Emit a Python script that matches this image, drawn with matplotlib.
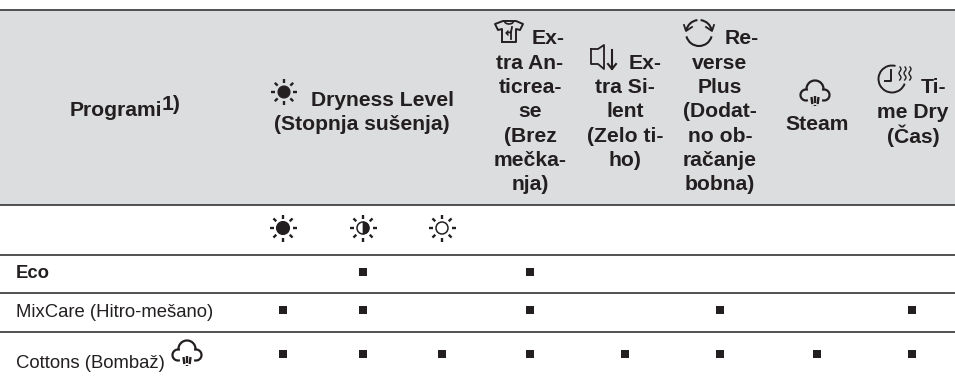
import numpy as np
import matplotlib
matplotlib.use('Agg')
import matplotlib.pyplot as plt
from matplotlib.patches import Circle, Rectangle, Wedge, Arc

plt.rcParams['font.family'] = ['Liberation Sans', 'DejaVu Sans']

# Table content
programs = ['Eco', 'MixCare (Hitro-mešano)', 'Cottons (Bombaž)']
program_bold = [True, False, False]
# columns: dry high, dry mid, dry low, anticrease, silent, reverse, steam, time dry
marks = [
    [0, 1, 0, 1, 0, 0, 0, 0],
    [1, 1, 0, 1, 0, 1, 0, 1],
    [1, 1, 1, 1, 1, 1, 1, 1],
]

col_x = [283, 363, 442, 530, 625, 720, 817, 912]
row_y = [272, 310, 354]
text_y = [278, 317, 368]
rule_y = [10, 204.5, 255, 293, 332]

text_color = '#231f20'
head_size = 15.2
body_size = 13.3

# (x, baseline y, text) of the header lines
head_lines = [
    (382, 105.5, 'Dryness Level'), (362, 130, '(Stopnja sušenja)'),
    (548, 44.5, 'Ex-'), (530, 69, 'tra An-'), (530, 93, 'ticrea-'), (530, 117, 'se'),
    (530, 142, '(Brez'), (530, 166, 'mečka-'), (530, 190, 'nja)'),
    (645, 69, 'Ex-'), (625, 93, 'tra Si-'), (625, 117, 'lent'),
    (625, 142, '(Zelo ti-'), (625, 166, 'ho)'),
    (742, 44.5, 'Re-'), (720, 69, 'verse'), (720, 93, 'Plus'), (720, 117, '(Dodat-'),
    (720, 142, 'no ob-'), (720, 166, 'račanje'), (720, 190, 'bobna)'),
    (817, 129.5, 'Steam'),
    (934, 93, 'Ti-'), (913, 118, 'me Dry'), (913, 143, '(Čas)'),
]

fig = plt.figure(figsize=(9.55, 3.77), dpi=100)
ax = fig.add_axes([0, 0, 1, 1])
ax.set_xlim(0, 955)
ax.set_ylim(377, 0)
ax.axis('off')


def sun(x, y, mode, r=6.5):
    if mode == 'full':
        ax.add_patch(Circle((x, y), r, fc=text_color, ec=text_color, lw=0.8))
    else:
        ax.add_patch(Circle((x, y), r - 0.5, fc='white', ec=text_color, lw=1.1))
        if mode == 'half':
            ax.add_patch(Wedge((x, y), r - 0.5, -90, 90, fc=text_color, ec=text_color, lw=0.5))
    for a in np.arange(0, 360, 45):
        c, s = np.cos(np.radians(a)), np.sin(np.radians(a))
        ax.plot([x + c * (r + 3), x + c * (r + 7)],
                [y + s * (r + 3), y + s * (r + 7)], color=text_color, lw=1.7,
                solid_capstyle='butt')


def cloud(x, y):
    kw = dict(color=text_color, lw=1.6)
    ax.add_patch(Arc((x, y - 6), 17, 17, theta1=175, theta2=365, **kw))
    ax.add_patch(Arc((x - 9, y + 0), 11, 11, theta1=70, theta2=290, **kw))
    ax.add_patch(Arc((x + 9, y + 0), 11, 11, theta1=-110, theta2=110, **kw))
    for dx, top in zip([-3.5, 0, 3.5], [2, 1, 2]):
        ax.plot([x + dx, x + dx * 0.7], [y + top, y + 11], color=text_color, lw=1.7,
                dashes=(3, 0.8))


def shirt(x, y):
    px = [x - 7, x - 7, x - 11, x - 14, x - 6, x + 7, x + 14, x + 11, x + 7, x + 7, x - 7]
    py = [y + 10, y - 3, y - 2, y - 8, y - 11, y - 11, y - 8, y - 2, y - 3, y + 10, y + 10]
    ax.plot(px, py, color=text_color, lw=1.4)
    ax.add_patch(Arc((x, y - 11), 9, 6, theta1=0, theta2=180, color=text_color, lw=1.2))
    ax.plot([x + 3, x + 2, x + 2], [y - 5, y, y + 7], color=text_color, lw=1.3)
    ax.plot([x - 2, x + 2], [y + 1, y], color=text_color, lw=1.3)
    ax.plot([x - 1, x - 3, x - 1], [y - 1, y + 1, y + 3], color=text_color, lw=1.0)


def speaker(x, y):
    ax.plot([x - 6, x + 1, x + 7, x + 7, x + 1, x - 6, x - 6],
            [y - 8, y - 8, y - 12, y + 12, y + 7, y + 7, y - 8], color=text_color, lw=1.3)
    ax.plot([x + 15, x + 15], [y - 7, y + 12], color=text_color, lw=1.5)
    ax.plot([x + 11, x + 15, x + 19], [y + 7, y + 12, y + 7], color=text_color, lw=1.5)


def reverse(x, y):
    # bottom arc plus two upper arcs ending in arrowheads at the sides
    ax.add_patch(Arc((x, y), 26, 26, theta1=15, theta2=165, color=text_color, lw=1.5))
    ax.add_patch(Arc((x, y), 26, 26, theta1=192, theta2=263, color=text_color, lw=1.5))
    ax.add_patch(Arc((x, y), 26, 26, theta1=277, theta2=348, color=text_color, lw=1.5))
    ax.plot([x - 15, x - 13, x - 7], [y - 8, y - 2, y - 6], color=text_color, lw=1.3)
    ax.plot([x + 15, x + 13, x + 7], [y - 8, y - 2, y - 6], color=text_color, lw=1.3)


def clock(x, y):
    ax.add_patch(Arc((x, y), 27, 27, theta1=20, theta2=285, color=text_color, lw=1.4))
    ax.plot([x - 1, x - 1, x - 7], [y - 9, y + 2, y + 2], color=text_color, lw=1.4)
    for dx in [8, 13, 18]:
        yy = np.linspace(-12, 1, 20)
        ax.plot(x + dx + 1.0 * np.sin((yy + 12) * 0.75), y + yy, color=text_color, lw=1.0)


# Header band and rules
ax.add_patch(Rectangle((0, 10), 955, 194.5, fc='#dcddde', ec='none', zorder=0))
for y in rule_y:
    ax.plot([0, 955], [y, y], color='#3c3c3c', lw=1.25, zorder=1, solid_capstyle='butt')

# Header text
ax.text(70, 116, 'Programi', ha='left', va='baseline', fontsize=head_size, fontweight='bold',
        color=text_color)
ax.text(162, 110, '1)', ha='left', va='baseline', fontsize=head_size, fontweight='bold',
        color=text_color)
for x, y, s in head_lines:
    ax.text(x, y, s, ha='center', va='baseline', fontsize=head_size, fontweight='bold',
            color=text_color)

# Header icons
sun(284, 92, 'full', r=6)
shirt(509, 32)
speaker(597, 57)
reverse(699, 33)
cloud(815, 95)
clock(892, 79)

# Dryness level row
sun(col_x[0], 228, 'full')
sun(col_x[1], 228, 'half')
sun(col_x[2], 228, 'empty')

# Program rows
for name, bold, y in zip(programs, program_bold, text_y):
    ax.text(16, y, name, ha='left', va='baseline', fontsize=body_size,
            fontweight='bold' if bold else 'normal', color=text_color)
cloud(187, 355)

m = np.array(marks)
for i, y in enumerate(row_y):
    for j, x in enumerate(col_x):
        if m[i, j]:
            ax.plot(x, y, marker='s', ms=5.8, color=text_color, mew=0)

fig.savefig('out.png', dpi=100)
